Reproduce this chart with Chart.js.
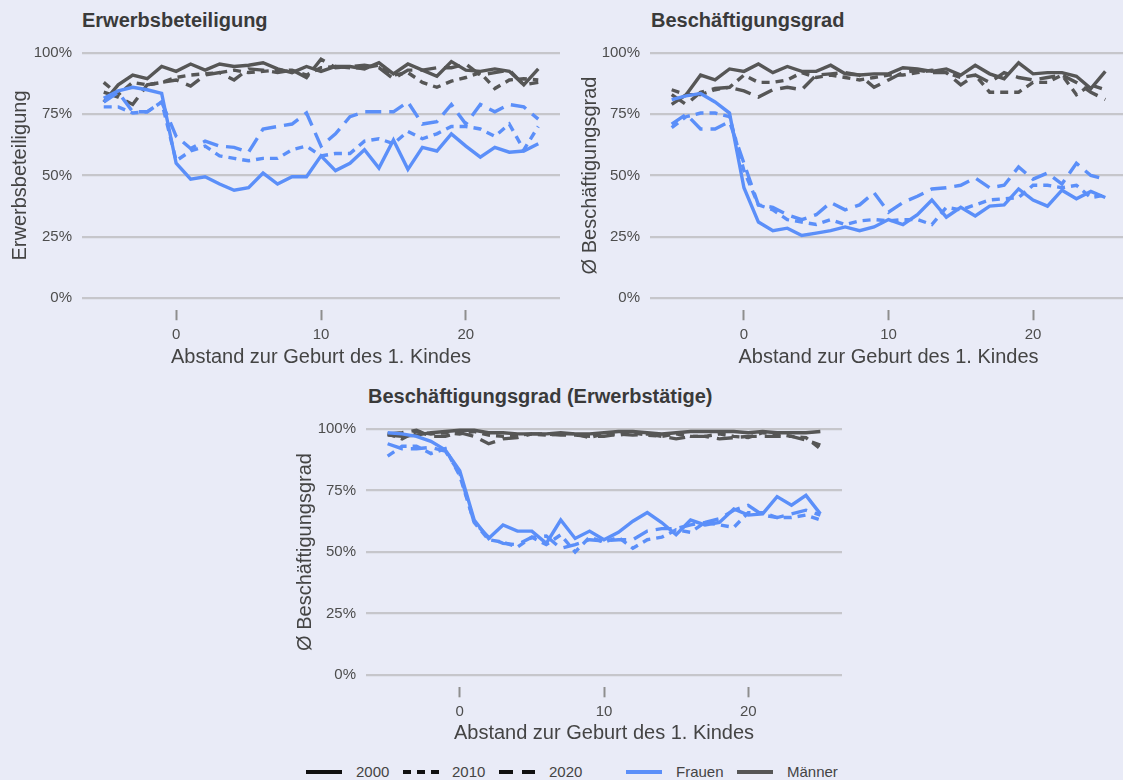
<!DOCTYPE html>
<html lang="de">
<head>
<meta charset="utf-8">
<title>Erwerbsbeteiligung und Beschäftigungsgrad</title>
<script src="https://cdn.jsdelivr.net/npm/chart.js@4.4.1/dist/chart.umd.min.js"></script>
<style>
  html, body { margin: 0; padding: 0; }
  body {
    width: 1123px; height: 780px; overflow: hidden; position: relative;
    background: #e9ebf7;
    font-family: "Liberation Sans", Arial, sans-serif;
  }
  canvas { position: absolute; }
  .ptitle {
    position: absolute; font-size: 20px; line-height: 20px; font-weight: bold;
    color: #3a3a3a; white-space: nowrap;
  }
  .lg { position: absolute; top: 762px; font-size: 15px; line-height: 20px; color: #444; white-space: nowrap; }
  .lg svg { position: absolute; top: 0; }
</style>
</head>
<body>

<div class="ptitle" style="left:82px; top:10px">Erwerbsbeteiligung</div>
<div class="ptitle" style="left:651px; top:10px">Beschäftigungsgrad</div>
<div class="ptitle" style="left:368px; top:386px">Beschäftigungsgrad (Erwerbstätige)</div>

<canvas id="chartErwerb" width="562" height="372" style="left:0; top:0"></canvas>
<canvas id="chartBesch" width="559" height="372" style="left:570px; top:0"></canvas>
<canvas id="chartErwt" width="559" height="368" style="left:285px; top:380px"></canvas>

<!-- Legende -->
<div id="legend"></div>

<script>
// ─── Daten ────────────────────────────────────────────
const abstand = [-5, -4, -3, -2, -1, 0, 1, 2, 3, 4, 5, 6, 7, 8, 9, 10, 11, 12, 13, 14, 15,
  16, 17, 18, 19, 20, 21, 22, 23, 24, 25];
const xTicks = [0, 10, 20];
const yTicks = [0, 25, 50, 75, 100];
const jahre = ['2000', '2010', '2020'];
const geschlecht = ['Frauen', 'Männer'];

// Erwerbsbeteiligung (%)
const ewFrauen2000 = [81.5, 84.5, 86, 85, 83.5, 55, 48.5, 49.5, 46.5, 44, 45, 51, 46.5, 49.5, 49.5,
  58, 52, 55, 60.5, 53, 64.5, 52.5, 61.5, 60, 67, 62, 57.5, 61.5, 59.5, 60, 63];
const ewFrauen2010 = [78, 78, 75.5, 76, 80, 56, 60, 62, 58, 57, 56, 57, 57, 60.5, 62,
  58, 59, 59, 64, 65, 63, 68, 65, 67, 70, 70, 69, 66, 71, 60.5, 70];
const ewFrauen2020 = [80, 84, 76, 76, 80, 66, 61, 64, 62, 61.5, 59.5, 69, 70, 71, 75.5,
  62, 67, 74, 76, 76, 76, 80, 71, 72, 79, 71, 79, 76, 79, 78, 73];
const ewMaenner2000 = [80, 87, 91, 89.5, 94.5, 92.5, 95.5, 93, 95.5, 94.5, 95, 96, 93.5, 92, 94.5,
  92.5, 94.5, 94.5, 93.5, 96, 91.5, 95.5, 93, 90.5, 96.5, 93, 92.5, 93.5, 92.5, 87, 93.5];
const ewMaenner2010 = [88, 83, 88, 87, 88, 90, 91, 91.5, 92, 93, 92, 92.5, 93, 93, 91,
  94, 94.5, 94, 94, 95, 91, 92, 88, 86, 88.5, 90, 92, 85.5, 89, 89.5, 89];
const ewMaenner2020 = [84, 82, 79, 87, 88, 89, 86.5, 91, 92, 89, 93.5, 93, 92, 93, 90,
  97.5, 94, 94.5, 95, 94, 89.5, 93, 93, 94, 94, 95.5, 91, 92, 93, 87, 88];

// Beschäftigungsgrad (%)
const bgFrauen2000 = [81, 82.5, 83.5, 80, 75.5, 45, 31, 27.5, 28.5, 25.5, 26.5, 27.5, 29, 27.5, 29,
  32, 30, 34, 40, 33, 37, 33.5, 37.5, 38, 44.5, 40, 37.5, 44, 40.5, 43.5, 41];
const bgFrauen2010 = [69.5, 74, 75.5, 75.5, 74, 52, 38, 36, 32, 31, 30, 32, 30, 31.5, 32,
  31.5, 32, 32, 30, 37, 36, 38, 40, 40.5, 41, 46, 46, 45, 46, 41, 42];
const bgFrauen2020 = [71, 75, 69, 69, 72, 55, 38, 37, 34, 32, 34, 39, 36, 38, 43,
  35, 39, 41.5, 44.5, 45, 46, 49, 45, 46, 53.5, 48.5, 51, 46.5, 55, 50, 48.5];
const bgMaenner2000 = [79, 83, 91, 89, 93.5, 92.5, 95.5, 92, 94.5, 92.5, 92.5, 95, 91.5, 91, 91.5,
  91.5, 94, 93.5, 92.5, 93.5, 91, 95, 91.5, 89.5, 96, 91.5, 92, 92, 90.5, 85.5, 92.5];
const bgMaenner2010 = [85, 83, 83, 85, 86, 91, 88, 88, 89, 92, 90, 91, 90, 89, 90,
  91, 91, 92, 93, 92, 90, 91, 84, 84, 84, 88, 88, 91, 83, 87, 85];
const bgMaenner2020 = [83, 79, 84, 85.5, 86, 84.5, 82, 85, 86, 85, 91, 91.5, 92, 91, 86,
  89, 92, 93, 92, 92, 87, 91, 88, 92, 90, 89, 90, 91, 88, 84, 81];

// Beschäftigungsgrad der Erwerbstätigen (%)
const etFrauen2000 = [98.5, 98, 97, 95, 91.5, 83, 63, 55.5, 61, 58.5, 58.5, 53.5, 63, 55.5, 58.5,
  55, 58, 62.5, 66, 62, 57, 63, 61, 62, 67.5, 65, 65.5, 72.5, 69, 73, 65.5];
const etFrauen2010 = [89, 93, 93, 90, 92, 81, 62, 55, 54, 52, 56, 53, 57, 50, 56,
  54, 56, 51.5, 55, 56, 59, 58, 62, 61, 60, 66, 66, 64, 64, 65, 63];
const etFrauen2020 = [94, 92, 92, 92.5, 91, 82, 62, 56, 53.5, 53, 56, 56.5, 51.5, 53, 55,
  54.5, 55, 55, 58.5, 59.5, 59.5, 61, 62, 63.5, 67, 69, 65, 64, 65.5, 67, 65];
const etMaenner2000 = [97.5, 97, 97.5, 98.5, 99, 99.5, 99.5, 98.5, 98.5, 98, 98, 98, 98.5, 98, 98,
  98.5, 99, 99, 98.5, 98, 98.5, 99, 99, 99, 99, 98.5, 99, 98.5, 98.5, 98.5, 99];
const etMaenner2010 = [98, 96, 99, 98, 98.5, 98, 99, 97.5, 97, 97.5, 98, 97.5, 98, 98, 96.5,
  98, 97.5, 98.5, 97.5, 97, 98, 97, 97, 98, 97, 96.5, 98.5, 98, 97, 96.5, 92];
const etMaenner2020 = [98, 98.5, 99.5, 97, 97, 98.5, 97, 94, 96, 96.5, 98, 98, 97.5, 97.5, 97,
  97, 98, 97.5, 98, 97, 96, 97, 97, 96, 96.5, 97, 97, 97, 97, 95.5, 93.5];

// ─── Stil ─────────────────────────────────────────────
const FONT = "'Liberation Sans', Arial, sans-serif";
const farben = { Frauen: '#5b8ff9', 'Männer': '#565656' };
const striche = { '2000': [], '2010': [8, 6], '2020': [16, 8] };

function makeDatasets(frauen, maenner) {
  const reihen = { Frauen: frauen, 'Männer': maenner };
  const ds = [];
  geschlecht.forEach((g) => {
    jahre.forEach((j, i) => {
      ds.push({
        label: g + ' ' + j,
        data: reihen[g][i],
        borderColor: farben[g],
        backgroundColor: farben[g],
        borderDash: striche[j],
        borderWidth: 3.4,
        pointRadius: 0,
        tension: 0,
        fill: false,
      });
    });
  });
  return ds;
}

function panel(id, yTitle, frauen, maenner, box) {
  new Chart(document.getElementById(id), {
    type: 'line',
    data: { labels: abstand, datasets: makeDatasets(frauen, maenner) },
    options: {
      responsive: false,
      animation: false,
      layout: { padding: { top: box.top, right: 2, left: 0, bottom: 0 } },
      plugins: { legend: { display: false }, tooltip: { enabled: false } },
      scales: {
        x: {
          type: 'linear',
          min: -6.5,
          max: 26.5,
          afterBuildTicks: (s) => { s.ticks = xTicks.map((v) => ({ value: v })); },
          afterFit: (s) => { s.height = box.xh; },
          border: { display: false },
          grid: { drawOnChartArea: false, drawTicks: true, tickLength: 10, tickColor: '#8e8e8e', tickWidth: 2 },
          ticks: { font: { family: FONT, size: 15 }, color: '#4d4d4d', padding: 6, maxRotation: 0 },
          title: {
            display: true, text: 'Abstand zur Geburt des 1. Kindes',
            font: { family: FONT, size: 20 }, color: '#444', padding: { top: 0, bottom: 3 },
          },
        },
        y: {
          min: -5,
          max: 105,
          afterBuildTicks: (s) => { s.ticks = yTicks.map((v) => ({ value: v })); },
          afterFit: (s) => { s.width = box.yw; },
          border: { display: false },
          grid: { color: '#c6c6cb', lineWidth: 2.2, drawTicks: false },
          ticks: { font: { family: FONT, size: 15 }, color: '#4d4d4d', padding: 10, callback: (v) => v + '%' },
          title: {
            display: true, text: yTitle,
            font: { family: FONT, size: 20 }, color: '#444', padding: { top: 8, bottom: 0 },
          },
        },
      },
    },
  });
}

panel('chartErwerb', 'Erwerbsbeteiligung',
  [ewFrauen2000, ewFrauen2010, ewFrauen2020], [ewMaenner2000, ewMaenner2010, ewMaenner2020],
  { top: 40.75, xh: 61.75, yw: 82 });
panel('chartBesch', 'Ø Beschäftigungsgrad',
  [bgFrauen2000, bgFrauen2010, bgFrauen2020], [bgMaenner2000, bgMaenner2010, bgMaenner2020],
  { top: 40.75, xh: 61.75, yw: 80 });
panel('chartErwt', 'Ø Beschäftigungsgrad',
  [etFrauen2000, etFrauen2010, etFrauen2020], [etMaenner2000, etMaenner2010, etMaenner2020],
  { top: 36.7, xh: 60.7, yw: 81 });

// ─── Legende ──────────────────────────────────────────
const legendItems = [
  { x: 306, tx: 356, text: '2000', color: '#111', dash: '' },
  { x: 403, tx: 452, text: '2010', color: '#111', dash: '8 6' },
  { x: 499, tx: 549, text: '2020', color: '#111', dash: '14 9' },
  { x: 626, tx: 676, text: 'Frauen', color: farben.Frauen, dash: '' },
  { x: 737, tx: 787, text: 'Männer', color: farben['Männer'], dash: '' },
];
const lg = document.getElementById('legend');
legendItems.forEach((it) => {
  const line = document.createElement('div');
  line.className = 'lg';
  line.style.left = it.x + 'px';
  line.innerHTML = '<svg width="36" height="20"><line x1="0" y1="10" x2="36" y2="10" stroke="' + it.color +
    '" stroke-width="4"' + (it.dash ? ' stroke-dasharray="' + it.dash + '"' : '') + '/></svg>';
  lg.appendChild(line);
  const t = document.createElement('div');
  t.className = 'lg';
  t.style.left = it.tx + 'px';
  t.textContent = it.text;
  lg.appendChild(t);
});
</script>
</body>
</html>
